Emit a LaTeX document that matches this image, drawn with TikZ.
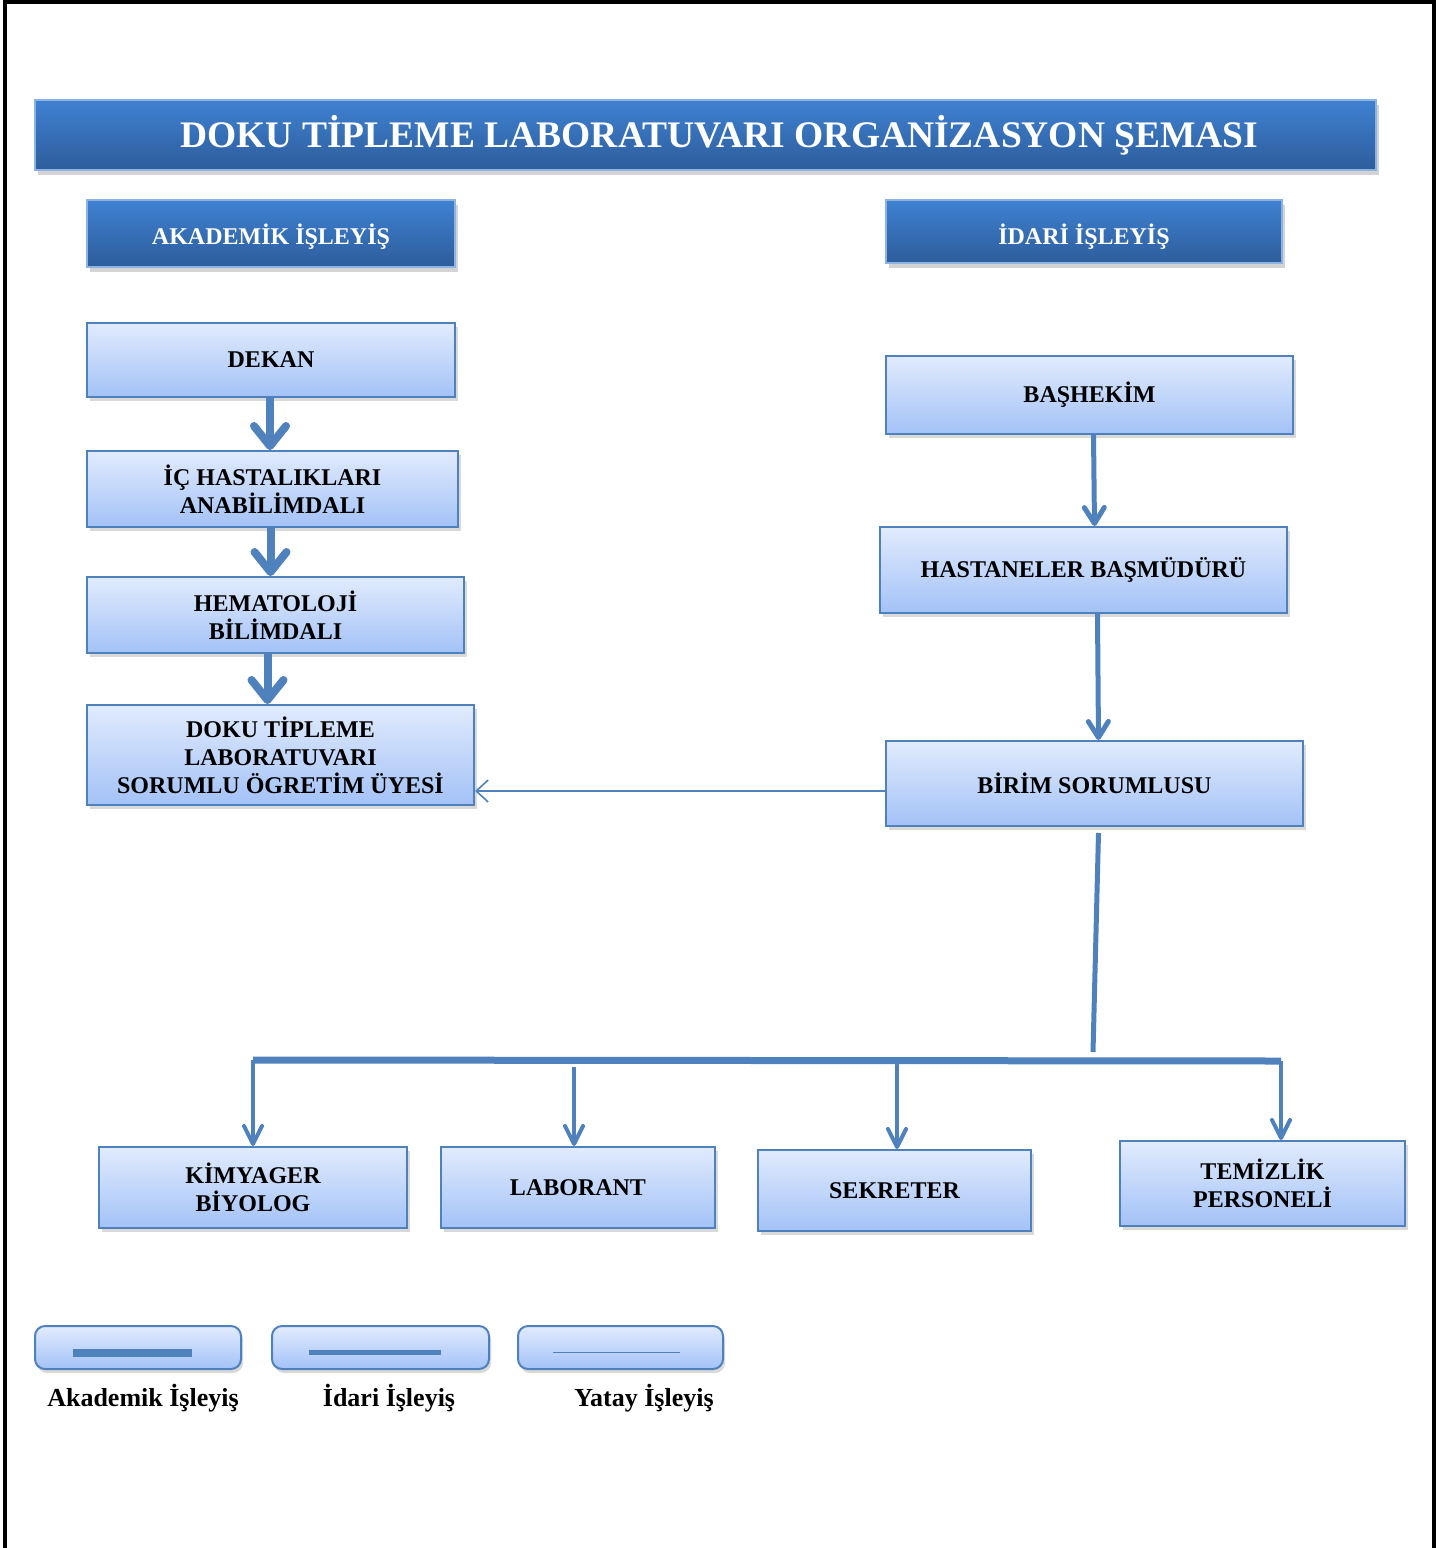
\documentclass[tikz,border=0pt]{standalone}
\usepackage{fontspec}
\setmainfont{Liberation Serif}
\usetikzlibrary{arrows.meta,shadows,calc}

\definecolor{boxtop}{HTML}{E1EBFD}
\definecolor{boxbot}{HTML}{A3C2F7}
\definecolor{edgeblue}{HTML}{4F81BD}
\definecolor{titletop}{HTML}{3F81D2}
\definecolor{titlebot}{HTML}{2D5D9B}
\definecolor{arrowblue}{HTML}{4F81BD}

\tikzset{
    box/.style={draw=edgeblue, line width=1pt, top color=boxtop, bottom color=boxbot,
        drop shadow={shadow xshift=1.5pt, shadow yshift=-2pt, opacity=0.3},
        align=center, inner sep=2pt, font=\fontsize{12}{14}\selectfont\bfseries},
    head/.style={draw=titletop!60!white, line width=0.6pt, top color=titletop, bottom color=titlebot,
        drop shadow={shadow xshift=1.5pt, shadow yshift=-2.5pt, opacity=0.35},
        text=white, align=center, font=\fontsize{12}{14}\selectfont\bfseries},
    legbox/.style={draw=edgeblue, line width=1pt, rounded corners=5pt, top color=boxtop, bottom color=boxbot,
        drop shadow={shadow xshift=1pt, shadow yshift=-2pt, opacity=0.3}, minimum height=21.5pt},
    legtext/.style={font=\fontsize{13}{15}\selectfont\bfseries},
    akad/.style={draw=arrowblue, line width=4pt, -{Straight Barb[length=10pt,width=16pt,round]}},
    idari/.style={draw=arrowblue, line width=2.5pt, -{Straight Barb[length=8pt,width=10pt,round]}},
    alt/.style={draw=arrowblue, line width=2pt, -{Straight Barb[length=9pt,width=9pt,round]}},
    yatay/.style={draw=arrowblue, line width=0.8pt, -{Straight Barb[length=6pt,width=11pt]}}
}

\begin{document}
\begin{tikzpicture}[x=0.5pt, y=-0.5pt]
    \useasboundingbox (0,0) rectangle (1445,1548);

    % Page frame
    \draw[line width=2pt] (5,1548) -- (5,2) -- (1434,2) -- (1434,1548);

    % Title and column headers
    \node[head, minimum width=670.5pt, minimum height=35pt, font=\fontsize{18.75}{22}\selectfont\bfseries]
        (baslik) at (705.5,135) {\hspace*{14pt}DOKU TİPLEME LABORATUVARI ORGANİZASYON ŞEMASI};
    \node[head, minimum width=184pt, minimum height=33.5pt, text height=11pt, text depth=0pt] (akademik) at (271,233.5) {AKADEMİK İŞLEYİŞ};
    \node[head, minimum width=198pt, minimum height=31.5pt, text height=13pt, text depth=0pt] (idari) at (1084,231.5) {İDARİ İŞLEYİŞ};

    % Academic chain
    \node[box, minimum width=184pt, minimum height=37pt] (dekan) at (271,360) {DEKAN};
    \node[box, minimum width=185.5pt, minimum height=38pt] (ichast) at (272.5,489) {İÇ HASTALIKLARI\\ANABİLİMDALI};
    \node[box, minimum width=188.5pt, minimum height=38pt] (hemat) at (275.5,615) {HEMATOLOJİ\\BİLİMDALI};
    \node[box, minimum width=193.5pt, minimum height=50pt] (doku) at (280.5,755) {DOKU TİPLEME\\LABORATUVARI\\SORUMLU ÖGRETİM ÜYESİ};

    \draw[akad] ([xshift=-0.5pt]dekan.south) -- ([xshift=-0.5pt]dekan.south |- ichast.north);
    \draw[akad] ([xshift=-1pt]ichast.south) -- ([xshift=-1pt]ichast.south |- hemat.north);
    \draw[akad] ([xshift=-4pt]hemat.south) -- ([xshift=-4pt]hemat.south |- doku.north);

    % Administrative chain
    \node[box, minimum width=203.5pt, minimum height=39pt] (bashekim) at (1089.5,395) {BAŞHEKİM};
    \node[box, minimum width=203.5pt, minimum height=43pt] (basmudur) at (1083.5,570) {HASTANELER BAŞMÜDÜRÜ};
    \node[box, minimum width=208.5pt, minimum height=42.5pt] (birim) at (1094.5,783.5) {BİRİM SORUMLUSU};

    \draw[idari] ([xshift=2pt]bashekim.south) -- ([xshift=5.5pt]basmudur.north);
    \draw[idari] ([xshift=7pt]basmudur.south) -- ([xshift=2pt]birim.north);

    % Horizontal link
    \draw[yatay] ([yshift=-3.75pt]birim.west) -- ([yshift=-3.75pt]birim.west -| doku.east);

    % Staff
    \node[box, minimum width=154pt, minimum height=40.5pt] (kimya) at (253,1187.5) {KİMYAGER\\BİYOLOG};
    \node[box, minimum width=137pt, minimum height=40.5pt] (laborant) at (578,1187.5) {LABORANT};
    \node[box, minimum width=136.5pt, minimum height=40.5pt] (sekreter) at (894.5,1190.5) {SEKRETER};
    \node[box, minimum width=142.5pt, minimum height=42.5pt] (temizlik) at (1262.5,1183.5) {TEMİZLİK\\PERSONELİ};

    \coordinate (busM) at (1093,1052);
    \coordinate (busL) at (253,1060);
    \coordinate (busR) at (1281,1061);
    \coordinate (labTop) at (574,1067);
    \coordinate (sekTop) at (897,1062);

    \draw[arrowblue, line width=2.5pt] ([xshift=2pt,yshift=-3pt]birim.south) -- (busM);
    \draw[arrowblue, line width=3.5pt] (busL) -- (busR);
    \draw[alt] (busL) -- (kimya.north);
    \draw[alt] (labTop) -- (labTop |- laborant.north);
    \draw[alt] (sekTop) -- (sekTop |- sekreter.north);
    \draw[alt] (busR) -- (busR |- temizlik.north);

    % Legend
    \foreach \n/\cx/\w/\tx/\lab in {1/138/103/143/Akademik İşleyiş, 2/380.5/108.5/389/İdari İşleyiş, 3/620.5/102.5/644/Yatay İşleyiş} {
        \node[legbox, minimum width=\w pt] (leg\n) at (\cx,1347.5) {};
        \node[legtext] (legt\n) at (\tx,1398) {\lab};
    }
    \foreach \n/\dx/\len/\lw in {1/-32.5/59.5/4, 2/-35.75/66/2.5, 3/-33.75/63.5/0.8} {
        \draw[arrowblue, line width=\lw pt] ([xshift=\dx pt, yshift=-2.5pt]leg\n.center) -- ++(\len pt,0pt);
    }
\end{tikzpicture}
\end{document}
